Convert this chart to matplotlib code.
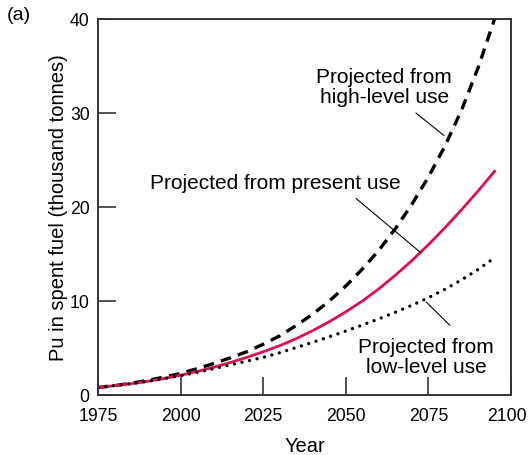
import matplotlib.pyplot as plt
import matplotlib.transforms as mtransforms

plt.rcParams['font.family'] = ['Liberation Sans', 'DejaVu Sans']

# years and Pu in spent fuel (thousand tonnes)
years = [1975, 1980, 1985, 1990, 1995, 2000, 2005, 2010, 2015, 2020, 2025, 2030, 2035,
         2040, 2045, 2050, 2055, 2060, 2065, 2070, 2075, 2080, 2085, 2090, 2095]
present_use = [0.8, 1.0, 1.2, 1.45, 1.75, 2.1, 2.5, 2.95, 3.45, 4.0, 4.6, 5.25, 6.0,
               6.85, 7.8, 8.85, 10.0, 11.3, 12.75, 14.3, 16.0, 17.8, 19.7, 21.7, 23.8]
high_use = [0.8, 1.0, 1.25, 1.55, 1.9, 2.3, 2.8, 3.35, 3.95, 4.6, 5.4, 6.3, 7.4,
            8.6, 10.0, 11.6, 13.4, 15.4, 17.7, 20.3, 23.2, 26.5, 30.3, 34.8, 40.0]
low_use = [0.8, 1.0, 1.2, 1.45, 1.75, 2.05, 2.4, 2.8, 3.2, 3.6, 4.0, 4.5, 5.05,
           5.6, 6.2, 6.8, 7.45, 8.1, 8.8, 9.55, 10.35, 11.25, 12.25, 13.35, 14.6]

xticks = [1975, 2000, 2025, 2050, 2075, 2100]
yticks = [0, 10, 20, 30, 40]

fig = plt.figure(figsize=(5.28, 4.56), dpi=100)
ax = fig.add_axes([0.1856, 0.1316, 0.7824, 0.8246])

# curves
ax.plot(years, high_use, color='black', linewidth=2.4, linestyle=(0, (3.2, 2.2)))
ax.plot(years, present_use, color='#e0104f', linewidth=2.0)
ax.plot(years, low_use, color='black', linewidth=2.4, linestyle=(0, (0.01, 2.3)),
        dash_capstyle='round')

ax.set_xlim(1975, 2100)
ax.set_ylim(0, 40)
ax.set_xticks(xticks)
ax.set_yticks(yticks)
ax.tick_params(direction='in', length=13, width=1.2, labelsize=12.7, color='#333333')
ax.tick_params(axis='x', pad=9)
ax.tick_params(axis='y', pad=6)
for s in ax.spines.values():
    s.set_linewidth(1.4)
    s.set_color('#333333')

# nudge the last year label so it stays inside the picture
last = ax.get_xticklabels()[-1]
last.set_transform(last.get_transform() +
                   mtransforms.ScaledTranslation(-4 / 100, 0, fig.dpi_scale_trans))

ax.set_xlabel('Year', fontsize=14.5, labelpad=8)
ax.set_ylabel('Pu in spent fuel (thousand tonnes)', fontsize=14.5, labelpad=1)

# labels with leader lines
lead = dict(arrowstyle='-', color='black', linewidth=0.8, shrinkA=0, shrinkB=0)
ax.annotate('', xy=(2079.7, 27.6), xytext=(2071.2, 30.0), arrowprops=lead)
ax.annotate('', xy=(2072.8, 15.1), xytext=(2053.1, 20.9), arrowprops=lead)
ax.annotate('', xy=(2081.5, 7.4), xytext=(2074.3, 9.9), arrowprops=lead)

ax.text(2061.6, 32.8, 'Projected from\nhigh-level use', fontsize=15, ha='center',
        va='center', linespacing=1.05)
ax.text(2028.6, 22.6, 'Projected from present use', fontsize=15, ha='center',
        va='center')
ax.text(2074.3, 4.1, 'Projected from\nlow-level use', fontsize=15, ha='center',
        va='center', linespacing=1.05)

fig.text(0.013, 0.965, '(a)', fontsize=14, ha='left', va='center')

fig.savefig('out.png', dpi=100)
